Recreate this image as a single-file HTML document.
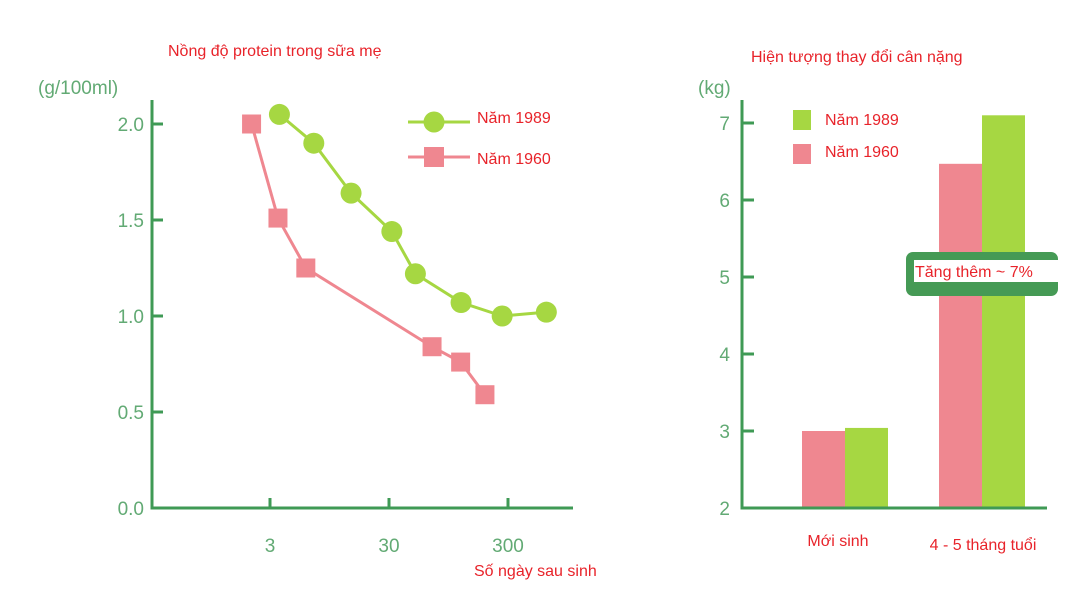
<!DOCTYPE html>
<html><head><meta charset="utf-8"><style>
body{margin:0;background:#fff;width:1091px;height:593px;overflow:hidden}
svg{display:block}
.t{font-family:"Liberation Sans",sans-serif}
.red{fill:#e8232a;font-size:16px}
.tick{fill:#62aa74;font-size:19px}
</style></head><body>
<svg width="1091" height="593" class="t">
<g id="left"></g>
<g id="right"></g>
</svg>
<script>
const lineDays1989=[3.6,7,14.4,31.7,50,121,268,630];
const lineVals1989=[2.05,1.90,1.64,1.44,1.22,1.07,1.00,1.02];
const lineDays1960=[2.1,3.5,6.0,69,120,192];
const lineVals1960=[2.0,1.51,1.25,0.84,0.76,0.59];
const yTicksL=[0,0.5,1.0,1.5,2.0];
const yTickLabelsL=["0.0","0.5","1.0","1.5","2.0"];
const xTicksL=[3,30,300];
const barCats=["Mới sinh","4 - 5 tháng tuổi"];
const bars1960=[3.0,6.47];
const bars1989=[3.04,7.1];
const yTicksR=[2,3,4,5,6,7];

const NS="http://www.w3.org/2000/svg";
function mk(p,tag,at,txt){const e=document.createElementNS(NS,tag);for(const k in at)e.setAttribute(k,at[k]);if(txt!==undefined)e.textContent=txt;p.appendChild(e);return e;}
const AX="#3f9a55", GR="#a6d742", PK="#ef8790";
const L=document.getElementById('left');
const xL=d=>270+119*Math.log10(d/3);
const yL=v=>508-192*v;
let e;
e=mk(L,'text',{x:168,y:56,class:'red'},"Nồng độ protein trong sữa mẹ");

e=mk(L,'text',{x:38,y:94,class:'tick','font-size':'20'},"(g/100ml)");

e=mk(L,'path',{d:'M152,100 V508 H573',stroke:AX,'stroke-width':3,fill:'none'});

yTicksL.forEach((v,i)=>{
 e=mk(L,'line',{x1:152,x2:163,y1:yL(v),y2:yL(v),stroke:AX,'stroke-width':3});
 
 e=mk(L,'text',{x:144,y:yL(v)+7,class:'tick','text-anchor':'end'},yTickLabelsL[i]);
 
});
xTicksL.forEach(d=>{
 e=mk(L,'line',{x1:xL(d),x2:xL(d),y1:498,y2:508,stroke:AX,'stroke-width':3});
 
 e=mk(L,'text',{x:xL(d),y:552,class:'tick','text-anchor':'middle'},String(d));
 
});
e=mk(L,'text',{x:474,y:576,class:'red'},"Số ngày sau sinh");

e=mk(L,'polyline',{points:lineDays1960.map((d,i)=>xL(d)+','+yL(lineVals1960[i])).join(' '),stroke:PK,'stroke-width':3,fill:'none'});

lineDays1960.forEach((d,i)=>{e=mk(L,'rect',{x:xL(d)-9.5,y:yL(lineVals1960[i])-9.5,width:19,height:19,fill:PK});
 });
e=mk(L,'polyline',{points:lineDays1989.map((d,i)=>xL(d)+','+yL(lineVals1989[i])).join(' '),stroke:GR,'stroke-width':3,fill:'none'});

lineDays1989.forEach((d,i)=>{e=mk(L,'circle',{cx:xL(d),cy:yL(lineVals1989[i]),r:10.5,fill:GR});
 });
e=mk(L,'line',{x1:408,x2:470,y1:122,y2:122,stroke:GR,'stroke-width':3});
e=mk(L,'circle',{cx:434,cy:122,r:10.5,fill:GR});
e=mk(L,'text',{x:477,y:123,class:'red'},"Năm 1989");
e=mk(L,'line',{x1:408,x2:470,y1:157,y2:157,stroke:PK,'stroke-width':3});
e=mk(L,'rect',{x:424,y:147,width:20,height:20,fill:PK});
e=mk(L,'text',{x:477,y:164,class:'red'},"Năm 1960");
const R=document.getElementById('right');
const yR=v=>508-77*(v-2);
const catX=[845,982];
e=mk(R,'text',{x:751,y:62,class:'red'},"Hiện tượng thay đổi cân nặng");
e=mk(R,'text',{x:698,y:94,class:'tick','font-size':'20'},"(kg)");
barCats.forEach((c,i)=>{
 e=mk(R,'rect',{x:catX[i]-43,y:yR(bars1960[i]),width:43,height:508-yR(bars1960[i]),fill:PK});
 
 e=mk(R,'rect',{x:catX[i],y:yR(bars1989[i]),width:43,height:508-yR(bars1989[i]),fill:GR});
 
});
e=mk(R,'text',{x:838,y:546,class:'red','text-anchor':'middle'},barCats[0]);
e=mk(R,'text',{x:983,y:550,class:'red','text-anchor':'middle'},barCats[1]);
e=mk(R,'path',{d:'M742,100 V508 H1047',stroke:AX,'stroke-width':3,fill:'none'});
yTicksR.forEach(v=>{
 e=mk(R,'line',{x1:742,x2:754,y1:yR(v),y2:yR(v),stroke:AX,'stroke-width':3});
 e=mk(R,'text',{x:730,y:yR(v)+7,class:'tick','text-anchor':'end'},String(v));
});
e=mk(R,'rect',{x:906,y:252,width:152,height:44,rx:7,fill:'#459a55'});
e=mk(R,'rect',{x:914,y:260,width:144,height:22,fill:'#fff'});

e=mk(R,'text',{x:915,y:277,class:'red'},"Tăng thêm ~ 7%");
e=mk(R,'rect',{x:793,y:110,width:18,height:20,fill:GR});
e=mk(R,'text',{x:825,y:125,class:'red'},"Năm 1989");
e=mk(R,'rect',{x:793,y:144,width:18,height:20,fill:PK});
e=mk(R,'text',{x:825,y:157,class:'red'},"Năm 1960");
</script>
</body></html>
